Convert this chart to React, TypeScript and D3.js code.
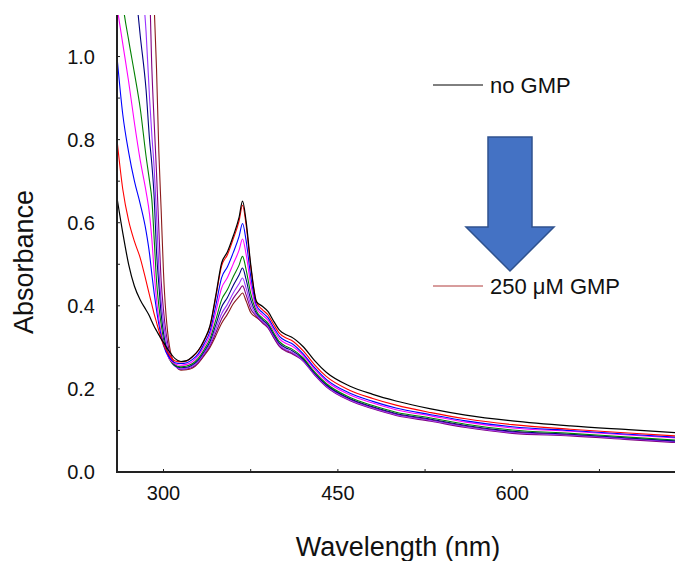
import React from 'react';
import * as d3 from 'd3';

// Wavelength grid (nm) shared by every spectrum
const WAVELENGTHS = [
  260, 265, 270, 275, 280, 285, 288, 290, 292, 294, 296, 298,
  300, 305, 310, 315, 320, 325, 330, 335, 340, 345,
  350, 355, 360, 365, 368, 371, 375, 380,
  385, 390, 395, 400, 405, 410,
  420, 430, 440, 460, 480, 500,
  530, 560, 600, 650, 700, 740,
];

// Absorbance spectra, from no GMP up to 250 µM GMP
const ABS_0 = [
  0.660, 0.575, 0.500, 0.447, 0.414, 0.390, 0.375, 0.362, 0.350, 0.340, 0.330, 0.320,
  0.312, 0.290, 0.273, 0.266, 0.268, 0.278, 0.293, 0.318, 0.352, 0.425,
  0.503, 0.530, 0.568, 0.613, 0.652, 0.605, 0.500, 0.410,
  0.399, 0.386, 0.362, 0.341, 0.331, 0.325,
  0.302, 0.268, 0.240, 0.207, 0.187, 0.171,
  0.152, 0.137, 0.123, 0.111, 0.102, 0.095,
];
const ABS_1 = [
  0.800, 0.680, 0.605, 0.555, 0.515, 0.460, 0.425, 0.403, 0.380, 0.360, 0.340, 0.322,
  0.306, 0.282, 0.267, 0.265, 0.267, 0.277, 0.292, 0.316, 0.350, 0.421,
  0.496, 0.523, 0.561, 0.604, 0.642, 0.596, 0.495, 0.408,
  0.391, 0.378, 0.354, 0.333, 0.323, 0.317,
  0.292, 0.258, 0.230, 0.197, 0.177, 0.161,
  0.143, 0.128, 0.114, 0.103, 0.094, 0.087,
];
const ABS_2 = [
  1.000, 0.860, 0.770, 0.700, 0.645, 0.580, 0.525, 0.475, 0.430, 0.390, 0.355, 0.328,
  0.305, 0.275, 0.263, 0.261, 0.263, 0.271, 0.285, 0.309, 0.339, 0.401,
  0.468, 0.494, 0.528, 0.567, 0.598, 0.558, 0.472, 0.401,
  0.384, 0.371, 0.347, 0.326, 0.316, 0.310,
  0.285, 0.251, 0.223, 0.190, 0.170, 0.154,
  0.138, 0.123, 0.109, 0.100, 0.091, 0.084,
];
const ABS_3 = [
  1.120, 1.030, 0.940, 0.840, 0.750, 0.675, 0.620, 0.560, 0.480, 0.415, 0.370, 0.335,
  0.310, 0.272, 0.260, 0.257, 0.259, 0.266, 0.280, 0.302, 0.330, 0.385,
  0.443, 0.468, 0.501, 0.534, 0.561, 0.525, 0.452, 0.394,
  0.378, 0.365, 0.341, 0.320, 0.310, 0.304,
  0.281, 0.247, 0.219, 0.186, 0.166, 0.150,
  0.135, 0.120, 0.106, 0.098, 0.089, 0.082,
];
const ABS_4 = [
  1.300, 1.130, 1.040, 0.960, 0.875, 0.760, 0.700, 0.655, 0.560, 0.460, 0.400, 0.355,
  0.320, 0.272, 0.257, 0.253, 0.255, 0.261, 0.274, 0.295, 0.321, 0.366,
  0.415, 0.439, 0.470, 0.498, 0.519, 0.488, 0.430, 0.387,
  0.371, 0.358, 0.334, 0.313, 0.303, 0.297,
  0.275, 0.241, 0.213, 0.180, 0.160, 0.144,
  0.130, 0.115, 0.101, 0.093, 0.084, 0.077,
];
const ABS_5 = [
  1.600, 1.450, 1.320, 1.190, 1.050, 0.920, 0.800, 0.740, 0.660, 0.530, 0.450, 0.380,
  0.335, 0.275, 0.255, 0.251, 0.252, 0.258, 0.270, 0.290, 0.314, 0.354,
  0.397, 0.420, 0.449, 0.474, 0.491, 0.464, 0.415, 0.382,
  0.367, 0.354, 0.330, 0.309, 0.299, 0.293,
  0.272, 0.238, 0.210, 0.177, 0.157, 0.141,
  0.127, 0.112, 0.098, 0.091, 0.082, 0.075,
];
const ABS_6 = [
  1.900, 1.720, 1.550, 1.380, 1.220, 1.060, 0.900, 0.810, 0.730, 0.620, 0.490, 0.410,
  0.360, 0.280, 0.255, 0.248, 0.250, 0.255, 0.267, 0.286, 0.308, 0.344,
  0.381, 0.404, 0.431, 0.453, 0.467, 0.443, 0.403, 0.378,
  0.363, 0.350, 0.326, 0.305, 0.295, 0.289,
  0.269, 0.235, 0.207, 0.174, 0.154, 0.138,
  0.124, 0.109, 0.095, 0.089, 0.080, 0.073,
];
const ABS_7 = [
  2.200, 1.980, 1.780, 1.580, 1.400, 1.240, 1.160, 0.970, 0.840, 0.720, 0.585, 0.460,
  0.390, 0.290, 0.256, 0.247, 0.248, 0.252, 0.264, 0.283, 0.304, 0.335,
  0.369, 0.392, 0.418, 0.437, 0.448, 0.427, 0.393, 0.375,
  0.359, 0.346, 0.322, 0.301, 0.291, 0.285,
  0.267, 0.233, 0.205, 0.172, 0.152, 0.136,
  0.122, 0.107, 0.093, 0.087, 0.078, 0.071,
];
const ABS_8 = [
  2.500, 2.250, 2.020, 1.800, 1.600, 1.420, 1.310, 1.230, 1.120, 0.970, 0.770, 0.630,
  0.480, 0.305, 0.258, 0.245, 0.246, 0.250, 0.262, 0.280, 0.300, 0.328,
  0.358, 0.380, 0.405, 0.422, 0.431, 0.412, 0.384, 0.372,
  0.361, 0.348, 0.324, 0.303, 0.293, 0.287,
  0.270, 0.236, 0.208, 0.175, 0.155, 0.139,
  0.125, 0.110, 0.096, 0.089, 0.080, 0.073,
];

const SPECTRA = [ABS_0, ABS_1, ABS_2, ABS_3, ABS_4, ABS_5, ABS_6, ABS_7, ABS_8];
const COLORS = [
  '#000000', '#ff0000', '#0000ff', '#ff00ff', '#008000',
  '#000080', '#9933ff', '#800080', '#8b1a1a',
];

const Y_TICKS = [0, 0.1, 0.2, 0.3, 0.4, 0.5, 0.6, 0.7, 0.8, 0.9, 1.0];
const Y_LABELS = [0, 0.2, 0.4, 0.6, 0.8, 1.0];
const X_TICKS = [300, 375, 450, 525, 600, 675];
const X_LABELS = [300, 450, 600];

const LEGEND_TOP = 'no GMP';
const LEGEND_BOTTOM = '250 μM GMP';

const W = 675;
const H = 561;
const LEFT = 117;
const RIGHT = 675;
const TOP = 15;
const BOTTOM = 472;
const FONT = '"Liberation Sans", Arial, Helvetica, sans-serif';

export default function App() {
  const x = d3.scaleLinear().domain([260, 740]).range([LEFT, RIGHT]);
  const y = d3.scaleLinear().domain([0, 1.1]).range([BOTTOM, TOP]);

  const line = d3
    .line<number>()
    .x((_, i) => x(WAVELENGTHS[i]))
    .y((d) => y(d))
    .curve(d3.curveMonotoneX);

  const fmt = d3.format('.1f');

  // Down arrow between the two legend entries
  const arrow = [
    [488, 137], [532, 137], [532, 227], [554, 227],
    [510, 271], [466, 227], [488, 227],
  ].map((p) => p.join(',')).join(' ');

  return (
    <svg
      width={W}
      height={H}
      style={{ position: 'absolute', left: 0, top: 0, background: '#fff' }}
      fontFamily={FONT}
    >
      <defs>
        <clipPath id="plot-area">
          <rect x={LEFT} y={TOP} width={RIGHT - LEFT + 10} height={BOTTOM - TOP} />
        </clipPath>
      </defs>

      <g clipPath="url(#plot-area)" fill="none">
        {SPECTRA.map((s, i) => i).reverse().map((i) => (
          <path
            key={i}
            d={line(SPECTRA[i]) || ''}
            stroke={COLORS[i]}
            strokeWidth={i === 0 ? 1.2 : 1.1}
          />
        ))}
      </g>

      {/* y axis */}
      <line x1={LEFT} x2={LEFT} y1={TOP} y2={BOTTOM + 1} stroke="#222" strokeWidth={2} />
      {Y_TICKS.map((t) => (
        <line key={t} x1={LEFT} x2={LEFT + 3} y1={y(t)} y2={y(t)} stroke="#222" strokeWidth={1} />
      ))}
      {Y_LABELS.map((t) => (
        <text key={t} x={95} y={y(t)} dy="0.35em" textAnchor="end" fontSize={20} fill="#111">
          {fmt(t)}
        </text>
      ))}

      {/* x axis */}
      <line x1={LEFT - 1} x2={RIGHT} y1={BOTTOM} y2={BOTTOM} stroke="#222" strokeWidth={2} />
      {X_TICKS.map((t) => (
        <line key={t} x1={x(t)} x2={x(t)} y1={BOTTOM} y2={BOTTOM - 3} stroke="#222" strokeWidth={1} />
      ))}
      {X_LABELS.map((t) => (
        <text key={t} x={x(t)} y={500} textAnchor="middle" fontSize={20} fill="#111">
          {t}
        </text>
      ))}

      {/* axis titles */}
      <text
        transform={`translate(33, 262) rotate(-90)`}
        textAnchor="middle"
        fontSize={27}
        fill="#111"
      >
        Absorbance
      </text>
      <text x={398} y={556} textAnchor="middle" fontSize={27} fill="#111">
        Wavelength (nm)
      </text>

      {/* legend */}
      <line x1={433} x2={483} y1={85} y2={85} stroke="#000" strokeWidth={1} />
      <text x={490} y={93} fontSize={22} fill="#111">{LEGEND_TOP}</text>
      <polygon points={arrow} fill="#4472c4" stroke="#2f528f" strokeWidth={1.5} />
      <line x1={433} x2={483} y1={286} y2={286} stroke="#b03a3a" strokeWidth={1} />
      <text x={490} y={294} fontSize={22} fill="#111">{LEGEND_BOTTOM}</text>
    </svg>
  );
}
